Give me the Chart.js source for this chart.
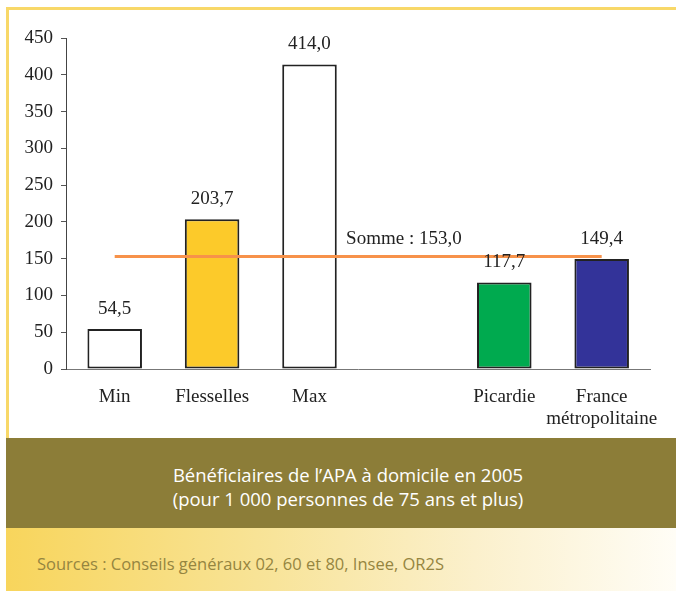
<!DOCTYPE html>
<html>
<head>
<meta charset="utf-8">
<script src="https://cdn.jsdelivr.net/npm/chart.js@4"></script>
<style>
  html, body { margin: 0; padding: 0; background: #fff; }
  body { width: 676px; height: 591px; position: relative; overflow: hidden; }
  #frame { position: absolute; left: 6px; top: 7px; width: 670px; height: 431px;
           border-left: 3px solid #f8d868; border-top: 3px solid #f8d868; box-sizing: border-box; }
  #wrap { position: absolute; left: 0; top: 0; width: 676px; height: 438px; }
  #band { position: absolute; left: 6px; top: 438px; width: 670px; height: 90px; background: #8c7d38;
          color: #fff; font-family: "Open Sans", sans-serif; font-size: 18.5px; line-height: 24px;
          text-align: center; box-sizing: border-box; padding-top: 25px; padding-left: 14px; }
  #foot { position: absolute; left: 6px; top: 528px; width: 670px; height: 63px;
          background: linear-gradient(to right, #f8d55c 0%, #f8e49a 40%, #fbf0cc 70%, #fffdf6 100%); }
  #src { position: absolute; left: 31px; top: 24px; color: #958540; font-family: "Open Sans", sans-serif; font-size: 16.5px; }
</style>
</head>
<body>
<div id="frame"></div>
<div id="wrap"><canvas id="c" width="676" height="438"></canvas></div>
<div id="band">Bénéficiaires de l’APA à domicile en 2005<br>(pour 1 000 personnes de 75 ans et plus)</div>
<div id="foot"><div id="src">Sources : Conseils généraux 02, 60 et 80, Insee, OR2S</div></div>
<script>
// Data
const categories = ['Min', 'Flesselles', 'Max', '', 'Picardie', ['France', 'métropolitaine']];
const values = [54.5, 203.7, 414.0, null, 117.7, 149.4];
const valueLabels = ['54,5', '203,7', '414,0', '', '117,7', '149,4'];
const barColors = ['#ffffff', '#fcca2a', '#ffffff', '#ffffff', '#00aa4f', '#333399'];
const sommeValue = 153.0;
const sommeLabel = 'Somme : 153,0';
const sommeLine = categories.map(() => sommeValue);

const serif = '"Liberation Serif", "Times New Roman", serif';

const labelPlugin = {
    id: 'labels',
    afterDatasetsDraw(chart) {
        const ctx = chart.ctx;
        const meta = chart.getDatasetMeta(1);
        ctx.save();
        ctx.font = '19px ' + serif;
        ctx.fillStyle = '#222';
        ctx.textAlign = 'center';
        ctx.textBaseline = 'middle';
        meta.data.forEach((bar, i) => {
            if (values[i] == null) return;
            ctx.fillText(valueLabels[i], bar.x, bar.y - 20);
        });
        const x = chart.scales.x.getPixelForValue(3);
        const y = chart.scales.y.getPixelForValue(sommeValue);
        ctx.fillText(sommeLabel, x - 3, y - 17);
        ctx.restore();
    }
};

new Chart(document.getElementById('c'), {
    data: {
        labels: categories,
        datasets: [
            {
                type: 'line',
                data: sommeLine,
                borderColor: '#f7924a',
                borderWidth: 3,
                pointRadius: 0,
                order: 0
            },
            {
                type: 'bar',
                data: values,
                backgroundColor: barColors,
                borderColor: '#222',
                borderWidth: 2,
                borderSkipped: false,
                barPercentage: 0.56,
                categoryPercentage: 1,
                order: 1
            }
        ]
    },
    options: {
        responsive: false,
        animation: false,
        layout: { padding: { left: 0, right: 23, top: 38, bottom: 0 } },
        plugins: { legend: { display: false }, tooltip: { enabled: false } },
        scales: {
            x: {
                afterFit: (s) => { s.height = 69; },
                offset: true,
                grid: { display: false, drawTicks: false },
                border: { color: '#777', width: 1 },
                ticks: { color: '#222', font: { family: serif, size: 19, lineHeight: 1.15 }, padding: 17, maxRotation: 0, autoSkip: false }
            },
            y: {
                afterFit: (s) => { s.width = 66; },
                min: 0, max: 450,
                ticks: { stepSize: 50, color: '#222', font: { family: serif, size: 19 }, padding: 8 },
                grid: { drawOnChartArea: false, tickLength: 5, color: '#555' },
                border: { color: '#444', width: 1 }
            }
        }
    },
    plugins: [labelPlugin]
});
</script>
</body>
</html>
